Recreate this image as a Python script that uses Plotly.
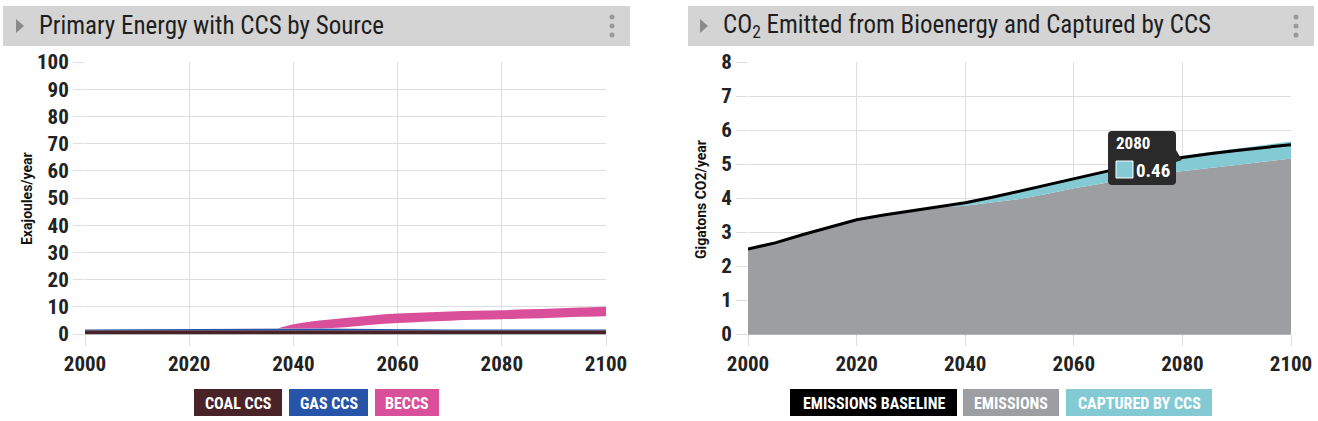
import plotly.graph_objects as go

W, H = 1318, 421
FONT = "Roboto Condensed, Liberation Sans Narrow, DejaVu Sans Condensed, Roboto, sans-serif"
FONT_PLAIN = "Roboto, sans-serif"

# ---------------- data ----------------
years = [2000, 2005, 2010, 2015, 2020, 2025, 2030, 2035, 2040, 2045, 2050,
         2055, 2060, 2065, 2070, 2075, 2080, 2085, 2090, 2095, 2100]

coal_ccs = [1.4, 1.4, 1.4, 1.4, 1.4, 1.4, 1.4, 1.4, 1.4, 1.4, 1.4,
            1.4, 1.4, 1.4, 1.4, 1.4, 1.4, 1.4, 1.4, 1.4, 1.4]
gas_ccs = [0.25, 0.3, 0.4, 0.5, 0.55, 0.6, 0.65, 0.65, 0.65, 0.6, 0.5,
           0.4, 0.35, 0.3, 0.3, 0.3, 0.3, 0.3, 0.3, 0.3, 0.3]

beccs_years = [2037, 2040, 2045, 2050, 2055, 2060, 2065, 2070, 2075, 2080, 2085, 2090, 2095, 2100]
beccs_low = [2.05, 2.05, 2.1, 2.5, 3.4, 4.0, 4.5, 4.9, 5.2, 5.4, 5.7, 6.0, 6.3, 6.5]
beccs_high = [2.05, 3.6, 5.0, 5.9, 6.8, 7.5, 7.9, 8.3, 8.55, 8.75, 9.1, 9.4, 9.7, 10.0]

baseline = [2.5, 2.68, 2.92, 3.15, 3.36, 3.5, 3.62, 3.74, 3.86, 4.02, 4.2,
            4.38, 4.56, 4.76, 4.93, 5.08, 5.2, 5.3, 5.4, 5.48, 5.57]
emissions = [2.5, 2.68, 2.92, 3.15, 3.36, 3.5, 3.62, 3.72, 3.77, 3.86, 3.97,
             4.12, 4.29, 4.42, 4.58, 4.7, 4.78, 4.88, 4.97, 5.06, 5.16]
captured = [0, 0, 0, 0, 0, 0, 0, 0.02, 0.1, 0.17, 0.24,
            0.27, 0.29, 0.35, 0.38, 0.42, 0.46, 0.46, 0.47, 0.48, 0.5]

x_ticks = [2000, 2020, 2040, 2060, 2080, 2100]
left_yticks = [0, 10, 20, 30, 40, 50, 60, 70, 80, 90, 100]
right_yticks = [0, 1, 2, 3, 4, 5, 6, 7, 8]

tip_year = 2080
tip_value = "0.46"

C_COAL, C_GAS, C_BECCS = "#4a2328", "#2754a8", "#d94f9a"
C_BASE, C_EMIS, C_CAPT = "#000000", "#9d9ea2", "#84cad4"

def px(x):
    return x / W

def py(y):
    return 1 - y / H

fig = go.Figure()

# ---------- left chart ----------
fig.add_trace(go.Scatter(x=years, y=coal_ccs, stackgroup="l", mode="lines",
                         line=dict(width=0, color=C_COAL), fillcolor=C_COAL,
                         name="COAL CCS", xaxis="x", yaxis="y"))
fig.add_trace(go.Scatter(x=years, y=gas_ccs, stackgroup="l", mode="lines",
                         line=dict(width=0, color=C_GAS), fillcolor=C_GAS,
                         name="GAS CCS", xaxis="x", yaxis="y"))
fig.add_trace(go.Scatter(x=beccs_years, y=beccs_low, mode="lines",
                         line=dict(width=0, color=C_BECCS, shape="spline"),
                         showlegend=False, xaxis="x", yaxis="y"))
fig.add_trace(go.Scatter(x=beccs_years, y=beccs_high, mode="lines", fill="tonexty",
                         line=dict(width=0, color=C_BECCS, shape="spline"), fillcolor=C_BECCS,
                         name="BECCS", xaxis="x", yaxis="y"))

# ---------- right chart ----------
fig.add_trace(go.Scatter(x=years, y=emissions, stackgroup="r", mode="lines",
                         line=dict(width=0, color=C_EMIS), fillcolor=C_EMIS,
                         name="EMISSIONS", xaxis="x2", yaxis="y2"))
fig.add_trace(go.Scatter(x=years, y=captured, stackgroup="r", mode="lines",
                         line=dict(width=0, color=C_CAPT), fillcolor=C_CAPT,
                         name="CAPTURED BY CCS", xaxis="x2", yaxis="y2"))
fig.add_trace(go.Scatter(x=years, y=baseline, mode="lines",
                         line=dict(width=3, color=C_BASE),
                         name="EMISSIONS BASELINE", xaxis="x2", yaxis="y2"))

GRID = "#dedede"
tickfont = dict(family=FONT, size=21, color="#222222", weight="bold")
axis_common = dict(showgrid=True, gridcolor=GRID, gridwidth=1, zeroline=False,
                   ticks="outside", ticklen=11, tickcolor=GRID,
                   tickfont=tickfont, fixedrange=True, automargin=False)

fig.update_layout(
    width=W, height=H,
    margin=dict(l=0, r=0, t=0, b=0, pad=0, autoexpand=False),
    paper_bgcolor="white", plot_bgcolor="white",
    showlegend=False,
    hovermode=False,
    xaxis=dict(domain=[px(85), px(606)], range=[2000, 2100], tickvals=x_ticks,
               anchor="y", showline=True, linecolor="#b5b5b5", linewidth=1, **axis_common),
    yaxis=dict(domain=[py(334), py(62)], range=[0, 100], tickvals=left_yticks,
               anchor="x", showline=False, **axis_common),
    xaxis2=dict(domain=[px(748), px(1291)], range=[2000, 2100], tickvals=x_ticks,
                anchor="y2", showline=True, linecolor="#b5b5b5", linewidth=1, **axis_common),
    yaxis2=dict(domain=[py(334), py(62)], range=[0, 8], tickvals=right_yticks,
                anchor="x2", showline=False, **axis_common),
)

shapes = []
annotations = []

# headers
for (x0, x1, tri_x, dots_x, title) in [
    (3, 630, 16, 612, "Primary Energy with CCS by Source"),
    (688, 1314, 700, 1296, "CO<sub>2</sub> Emitted from Bioenergy and Captured by CCS"),
]:
    shapes.append(dict(type="rect", xref="paper", yref="paper",
                       x0=px(x0), x1=px(x1), y0=py(46), y1=py(6),
                       fillcolor="#d4d4d4", line=dict(width=0), layer="below"))
    shapes.append(dict(type="path", xref="paper", yref="paper",
                       path=f"M {px(tri_x)},{py(19)} L {px(tri_x + 8)},{py(26)} L {px(tri_x)},{py(33)} Z",
                       fillcolor="#8a8a8a", line=dict(width=0)))
    for dy in (17, 26, 35):
        shapes.append(dict(type="circle", xref="paper", yref="paper",
                           x0=px(dots_x - 2.5), x1=px(dots_x + 2.5),
                           y0=py(dy + 2.5), y1=py(dy - 2.5),
                           fillcolor="#999999", line=dict(width=0)))
    annotations.append(dict(xref="paper", yref="paper", x=px(tri_x + 21), y=py(26),
                            xanchor="left", yanchor="middle", showarrow=False,
                            text=title, font=dict(family=FONT, size=25, color="#1e1e1e")))

# y-axis titles
annotations.append(dict(xref="paper", yref="paper", x=px(17), y=py(199), textangle=-90,
                        showarrow=False, text="Exajoules/year",
                        font=dict(family=FONT_PLAIN, size=14, color="#111111", weight="bold")))
annotations.append(dict(xref="paper", yref="paper", x=px(701), y=py(200), textangle=-90,
                        showarrow=False, text="Gigatons CO2/year",
                        font=dict(family=FONT_PLAIN, size=14, color="#111111", weight="bold")))

# legends (colored boxes)
legend_items = [
    (194, 282, "COAL CCS", C_COAL),
    (289, 368, "GAS CCS", C_GAS),
    (375, 439, "BECCS", C_BECCS),
    (790, 957, "EMISSIONS BASELINE", C_BASE),
    (963, 1059, "EMISSIONS", C_EMIS),
    (1066, 1212, "CAPTURED BY CCS", C_CAPT),
]
for x0, x1, label, col in legend_items:
    shapes.append(dict(type="rect", xref="paper", yref="paper",
                       x0=px(x0), x1=px(x1), y0=py(416), y1=py(389),
                       fillcolor=col, line=dict(width=0)))
    annotations.append(dict(xref="paper", yref="paper", x=px((x0 + x1) / 2), y=py(403),
                            showarrow=False, text=label, xanchor="center", yanchor="middle",
                            font=dict(family=FONT, size=16, color="white", weight="bold")))

# tooltip
shapes.append(dict(type="path", xref="paper", yref="paper",
                   path=(f"M {px(1112)},{py(131)} L {px(1172)},{py(131)} "
                         f"Q {px(1176)},{py(131)} {px(1176)},{py(135)} "
                         f"L {px(1176)},{py(150)} L {px(1182)},{py(160)} L {px(1176)},{py(162)} "
                         f"L {px(1176)},{py(181)} Q {px(1176)},{py(185)} {px(1172)},{py(185)} "
                         f"L {px(1112)},{py(185)} Q {px(1108)},{py(185)} {px(1108)},{py(181)} "
                         f"L {px(1108)},{py(135)} Q {px(1108)},{py(131)} {px(1112)},{py(131)} Z"),
                   fillcolor="#2a2a2a", line=dict(width=0)))
shapes.append(dict(type="rect", xref="paper", yref="paper",
                   x0=px(1116), x1=px(1133), y0=py(178), y1=py(161),
                   fillcolor=C_CAPT, line=dict(width=1, color="white")))
annotations.append(dict(xref="paper", yref="paper", x=px(1114), y=py(143),
                        xanchor="left", yanchor="middle", showarrow=False,
                        text=str(tip_year),
                        font=dict(family=FONT, size=17, color="white", weight="bold")))
annotations.append(dict(xref="paper", yref="paper", x=px(1134), y=py(170),
                        xanchor="left", yanchor="middle", showarrow=False,
                        text=tip_value,
                        font=dict(family=FONT, size=19, color="white", weight="bold")))

fig.update_layout(shapes=shapes, annotations=annotations)
fig.write_html("out.html", config={"displayModeBar": False, "staticPlot": True},
               post_script="document.body.style.margin='0px';document.body.style.overflow='hidden';")
